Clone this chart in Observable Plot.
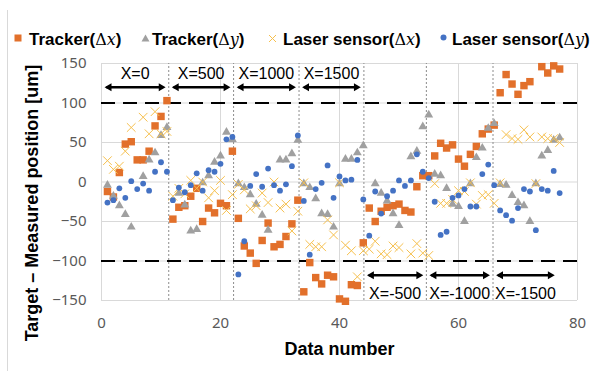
<!DOCTYPE html>
<html>
<head>
<meta charset="utf-8">
<script src="https://cdn.jsdelivr.net/npm/d3@7"></script>
<script src="https://cdn.jsdelivr.net/npm/@observablehq/plot@0.6"></script>
<style>
  body { margin: 0; background: #fff; }
  #wrap { position: relative; width: 599px; height: 371px; overflow: hidden; background: #fff; }
  #border { position: absolute; left: 7px; top: 10px; width: 1px; height: 361px; background: #d9d9d9; z-index: 2; }
  #legend { position: absolute; left: 0; top: 0; width: 599px; height: 56px; font-family: "Liberation Sans", Arial, sans-serif; z-index: 2; }
  .lt { position: absolute; top: 30px; font-size: 17px; font-weight: bold; line-height: 20px; color: #000; white-space: nowrap; }
  .m { font-family: "DejaVu Serif", serif; font-weight: normal; font-size: 16px; }
  .m i { font-style: italic; }
  .mk { position: absolute; }
  #chart { position: absolute; left: 0; top: 0; }
  #chart svg { display: block; }
</style>
</head>
<body>
<div id="wrap">
  <div id="chart"></div>
  <div id="border"></div>
  <div id="legend"></div>
</div>
<script>
// ---- data ----
const seriesNames = ["Tracker(Δx)", "Tracker(Δy)", "Laser sensor(Δx)", "Laser sensor(Δy)"];

const trackerDx = [
  -12, -19, 12, 48, 51, 28, 28, 39, 71, 83, 103,
  -47, -32, -30, -18, -8, -50, -33, -39, -27, -30, 39,
  -46, -81, -90, -103, -74, -52, -82, -79, -69, -53, -23,
  -139, -102, -121, -129, -118, -120, -148, -151, -130, -131, -77,
  -33, -50, -37, -32, -30, -28, -36, -38, -6, 8, 8,
  33, 49, 43, 47, 29, 20, 35, 45, 61, 67, 72,
  113, 136, 124, 111, 122, 127, null, 146, 138, 147, 143
];
const trackerDy = [
  -4, -18, -30, -41, -57, null, 7, 28, 37, 59, 69,
  null, -14, -29, -62, -60, -1, 8, 25, 33, 63, 54,
  -2, -7, -16, -28, -42, -61, null, 28, 28, 36, 53,
  -2, -7, -21, -40, -41, -57, -2, 29, 29, 37, 46,
  null, -2, -14, -24, -40, -55, null, 32, 39, 70, 85,
  10, 8, -8, -28, -31, -50, -2, 31, 43, 68, 74,
  -3, -4, -17, -26, -30, -50, -2, 33, 40, 53, 56
];
const laserDx = [
  27, 16, 20, 39, 69, null, 82, 61, 89, 61, 64,
  -18, -8, -15, 2, -8, 0, -20, -11, 2, -36, -16,
  -3, -10, -34, -30, -14, -26, 0, -33, -28, -62, -37,
  -1, -79, -82, -82, -48, -67, -1, -80, -87, -120, -87,
  -85, -75, -91, -92, -81, -83, null, -91, -78, -90, -93,
  -2, -27, -27, -22, -11, -12, -1, -28, -17, -16, -27,
  -1, 60, 55, 54, 66, 57, -2, 57, 55, 55, 50
];
const laserDy = [
  -26, -23, -8, -20, 1, -9, -2, -11, 13, 25, 13,
  -23, -7, -13, -4, 11, -11, 15, 13, 23, 54, 57,
  -117, -75, -5, 10, -6, 17, -4, -11, -3, 20, 59,
  -24, -92, -9, -1, 21, -20, 7, 2, 3, 28, -22,
  -68, -12, -40, -18, -11, 2, -5, 2, 35, 13, 5,
  -25, -67, -63, -20, -17, -9, -31, -31, 10, 22, -4,
  -36, -42, -49, -33, -9, -12, -61, -9, -11, 14, -14
];

const xTicks = [0, 20, 40, 60, 80];
const yTicks = [-150, -100, -50, 0, 50, 100, 150];
const limitLines = [100, -100];
const groupBoundaries = [11.3, 22.2, 33.2, 44.1, 54.6, 65.8];
const topBounds = [0, 11.3, 22.2, 33.2, 44.1];
const topLabels = ["X=0", "X=500", "X=1000", "X=1500"];
const botBounds = [44.1, 54.6, 65.8, 76.7];
const botLabels = ["X=-500", "X=-1000", "X=-1500"];
const topArrowY = 120, topLabelY = 137, botArrowY = -118, botLabelY = -142;

const colors = { orange: "#E2702B", gray: "#A0A0A0", yellow: "#F6C04E", blue: "#4472C4" };

// ---- legend ----
const legend = document.getElementById("legend");
legend.innerHTML = `
  <svg class="mk" style="left:14px;top:34px" width="8" height="8"><rect x="0.5" y="0.5" width="7" height="7" fill="${colors.orange}"/></svg>
  <span class="lt" style="left:29px">Tracker(<span class="m">Δ<i>x</i></span>)</span>
  <svg class="mk" style="left:141px;top:34px" width="9" height="8"><path d="M4.5,0.5 L8.5,7.5 L0.5,7.5Z" fill="${colors.gray}"/></svg>
  <span class="lt" style="left:152px">Tracker(<span class="m">Δ<i>y</i></span>)</span>
  <svg class="mk" style="left:268px;top:34px" width="9" height="9"><path d="M1,1L8,8M8,1L1,8" stroke="${colors.yellow}" stroke-width="1"/></svg>
  <span class="lt" style="left:283px">Laser sensor(<span class="m">Δ<i>x</i></span>)</span>
  <svg class="mk" style="left:440px;top:34px" width="7" height="7"><circle cx="3.5" cy="3.5" r="3" fill="${colors.blue}"/></svg>
  <span class="lt" style="left:452px">Laser sensor(<span class="m">Δ<i>y</i></span>)</span>
`;

// ---- tables built from arrays ----
const rows = vals => vals.map((v, i) => ({ n: i + 1, v })).filter(d => d.v != null);
const arrows = [
  ...topLabels.map((t, i) => ({ label: t, x1: topBounds[i], x2: topBounds[i + 1], y: topArrowY, ly: topLabelY })),
  ...botLabels.map((t, i) => ({ label: t, x1: botBounds[i], x2: botBounds[i + 1], y: botArrowY, ly: botLabelY }))
];
const inset = 0.3;

const chart = Plot.plot({
  width: 599,
  height: 371,
  marginLeft: 101,
  marginRight: 22,
  marginTop: 63,
  marginBottom: 71,
  style: { fontFamily: "'Noto Sans', sans-serif", fontSize: "15px", color: "#595959", background: "white" },
  x: { domain: [0, 80], ticks: xTicks, tickSize: 0, tickPadding: 17, label: null },
  y: { domain: [-150, 150], ticks: yTicks, tickSize: 0, tickPadding: 15, label: null },
  marks: [
    Plot.gridY(yTicks, { stroke: "#d9d9d9", strokeOpacity: 1 }),
    Plot.gridX(xTicks, { stroke: "#d9d9d9", strokeOpacity: 1 }),
    Plot.ruleX(groupBoundaries, { y1: -150, y2: 150, stroke: "#8c8c8c", strokeWidth: 1, strokeDasharray: "2,2" }),
    Plot.ruleY(limitLines, { stroke: "#000", strokeWidth: 2, strokeDasharray: "14,8" }),
    Plot.dot(rows(trackerDx), { x: "n", y: "v", symbol: "square", r: 4.2, fill: colors.orange }),
    Plot.dot(rows(trackerDy), { x: "n", y: "v", symbol: "triangle", r: 3.3, fill: colors.gray }),
    Plot.dot(rows(laserDx), { x: "n", y: "v", symbol: "times", r: 4, stroke: colors.yellow, strokeWidth: 1 }),
    Plot.dot(rows(laserDy), { x: "n", y: "v", symbol: "circle", r: 2.9, fill: colors.blue }),
    Plot.ruleY(arrows, { x1: d => d.x1 + inset + 0.6, x2: d => d.x2 - inset - 0.6, y: "y", stroke: "#000", strokeWidth: 2.5 }),
    Plot.dot(arrows, { x: d => d.x2 - inset, y: "y", symbol: "triangle2", r: 3.8, fill: "#000", stroke: "none", rotate: 90, dx: -5.9 }),
    Plot.dot(arrows, { x: d => d.x1 + inset, y: "y", symbol: "triangle2", r: 3.8, fill: "#000", stroke: "none", rotate: -90, dx: 5.9 }),
    Plot.text(arrows, { x: d => (d.x1 + d.x2) / 2, y: "ly", text: "label", fill: "#000", fontSize: 16, fontFamily: "'Liberation Sans', Arial, sans-serif" }),
    Plot.text(["Data number"], { frameAnchor: "bottom", dy: 54, fill: "#000", fontSize: 18, fontWeight: "bold", fontFamily: "'Liberation Sans', Arial, sans-serif" }),
    Plot.text(["Target – Measured position [um]"], { frameAnchor: "left", textAnchor: "middle", rotate: -90, dx: -69, dy: 21, fill: "#000", fontSize: 18, fontWeight: "bold", fontFamily: "'Liberation Sans', Arial, sans-serif" })
  ]
});
document.getElementById("chart").appendChild(chart);
</script>
</body>
</html>
